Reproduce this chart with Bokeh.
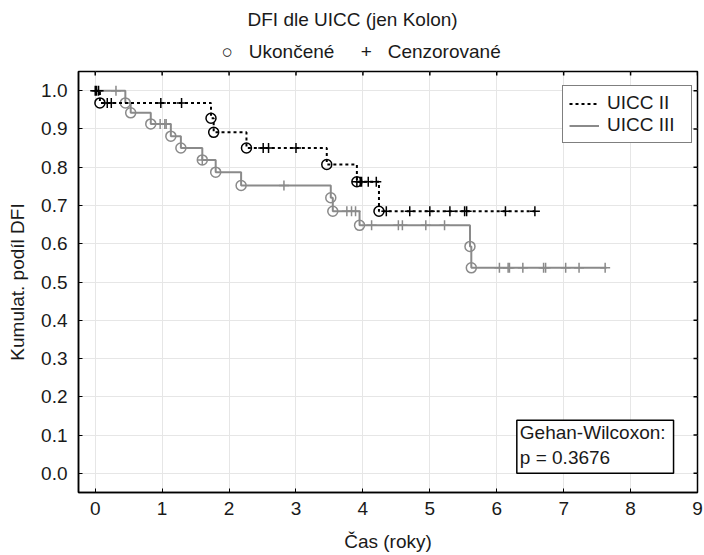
import math
from bokeh.plotting import figure
from bokeh.models import Range1d, FixedTicker, Legend, LegendItem, Label, Title
from bokeh.embed import file_html
from bokeh.resources import INLINE

FONT = "Liberation Sans"
TXT = "#1a1a1a"

title_text = "DFI dle UICC (jen Kolon)"
x_label = "Čas (roky)"
y_label = "Kumulat. podíl DFI"
marker_names = ["Ukončené", "Cenzorované"]
marker_symbols = ["○", "+"]
group_names = ["UICC II", "UICC III"]
test_text = ["Gehan-Wilcoxon:", "p = 0.3676"]

x_ticks = [0, 1, 2, 3, 4, 5, 6, 7, 8, 9]
y_ticks = [0.0, 0.1, 0.2, 0.3, 0.4, 0.5, 0.6, 0.7, 0.8, 0.9, 1.0]
y_tick_labels = ["0.0", "0.1", "0.2", "0.3", "0.4", "0.5", "0.6", "0.7", "0.8", "0.9", "1.0"]

# UICC II
ii_event_t = [0.07, 1.73, 1.77, 2.26, 3.46, 3.91, 4.24]
ii_event_s = [0.968, 0.928, 0.891, 0.850, 0.807, 0.762, 0.685]
ii_cens_t = [0.00, 0.02, 0.05, 0.18, 0.24, 0.98, 1.29, 2.51, 2.59, 3.00,
             3.91, 3.96, 3.98, 4.08, 4.20, 4.35, 4.70, 5.00, 5.30, 5.52,
             5.55, 6.13, 6.57]
ii_cens_s = [1.0, 1.0, 1.0, 0.968, 0.968, 0.968, 0.968, 0.850, 0.850, 0.850,
             0.762, 0.762, 0.762, 0.762, 0.762, 0.685, 0.685, 0.685, 0.685, 0.685,
             0.685, 0.685, 0.685]
ii_end = 6.57

# UICC III
iii_event_t = [0.45, 0.53, 0.83, 1.13, 1.28, 1.60, 1.80, 2.18, 3.52, 3.55,
               3.95, 5.60, 5.62]
iii_event_s = [0.968, 0.942, 0.913, 0.881, 0.850, 0.819, 0.787, 0.752, 0.720, 0.685,
               0.648, 0.593, 0.537]
iii_cens_t = [0.31, 0.97, 1.04, 1.06, 1.60, 2.82, 3.76, 3.83, 3.89, 4.13,
              4.53, 4.59, 4.94, 5.22, 6.04, 6.17, 6.19, 6.39, 6.70, 6.73,
              7.03, 7.23, 7.62]
iii_cens_s = [1.0, 0.913, 0.913, 0.913, 0.819, 0.752, 0.685, 0.685, 0.685, 0.648,
              0.648, 0.648, 0.648, 0.648, 0.537, 0.537, 0.537, 0.537, 0.537, 0.537,
              0.537, 0.537, 0.537]
iii_end = 7.64

BLACK = "#000000"
GRAY = "#8a8a8a"

X0, X1, Y0, Y1 = -0.25, 9, -0.05, 1.05

p = figure(width=704, height=555, output_backend="svg", toolbar_location=None,
           title=None,
           x_range=Range1d(X0, X1), y_range=Range1d(Y0, Y1),
           min_border_left=78, min_border_right=7, min_border_top=71,
           min_border_bottom=63)
p.background_fill_color = "white"
p.border_fill_color = "white"
p.outline_line_color = "black"
p.outline_line_width = 1.5

# header: marker key row (nearest the frame), then the title above it
NB = "\u00a0"
key_text = (marker_symbols[0] + NB * 3 + marker_names[0] + NB * 5 +
            marker_symbols[1] + NB * 3 + marker_names[1])
p.add_layout(Title(text=key_text, align="left", offset=143, standoff=19,
                   text_font=FONT, text_font_size="19px", text_font_style="normal",
                   text_color=TXT), "above")
p.add_layout(Title(text=title_text, align="left", offset=169, standoff=0,
                   text_font=FONT, text_font_size="19px", text_font_style="normal",
                   text_color=TXT), "above")

for ax in (p.xaxis[0], p.yaxis[0]):
    ax.axis_line_color = "black"
    ax.axis_line_width = 1.5
    ax.major_tick_in = 4
    ax.major_tick_out = 0
    ax.minor_tick_line_color = None
    ax.major_label_text_font = FONT
    ax.major_label_text_font_size = "19px"
    ax.major_label_text_color = TXT
    ax.axis_label_text_font = FONT
    ax.axis_label_text_font_size = "19px"
    ax.axis_label_text_font_style = "normal"
    ax.axis_label_text_color = TXT

p.xaxis.ticker = FixedTicker(ticks=x_ticks)
p.yaxis.ticker = FixedTicker(ticks=y_ticks)
p.yaxis.major_label_overrides = {t: l for t, l in zip(y_ticks, y_tick_labels)}
p.xaxis.axis_label = x_label
p.yaxis.axis_label = y_label
p.xaxis.major_label_standoff = 9
p.xaxis.axis_label_standoff = 13
p.yaxis.major_label_standoff = 11
p.yaxis.axis_label_standoff = 10

p.xgrid.grid_line_color = "#e6e6e6"
p.ygrid.grid_line_color = "#e6e6e6"
p.xgrid.ticker = FixedTicker(ticks=x_ticks)
p.ygrid.ticker = FixedTicker(ticks=y_ticks)

# inward ticks on top and right edges (half of each dash is clipped by the frame)
p.scatter(x=x_ticks, y=[Y1] * len(x_ticks), marker="dash", size=8, angle=math.pi / 2,
          line_color="black", line_width=1.5)
p.scatter(x=[X1] * len(y_ticks), y=y_ticks, marker="dash", size=8,
          line_color="black", line_width=1.5)

curves = {}
specs = [
    (group_names[0], ii_event_t, ii_event_s, ii_cens_t, ii_cens_s, ii_end, BLACK, "3 3"),
    (group_names[1], iii_event_t, iii_event_s, iii_cens_t, iii_cens_s, iii_end, GRAY, "solid"),
]
for name, et, es, ct, cs, end, col, dash in specs[::-1]:
    xs = [0.0] + list(et) + [end]
    ys = [1.0] + list(es) + [es[-1]]
    r = p.step(xs, ys, mode="after", line_color=col, line_width=2, line_dash=dash)
    curves[name] = r
    p.scatter(x=ct, y=cs, marker="cross", size=10, line_color=col, line_width=1.5)
    p.scatter(x=et, y=es, marker="circle", size=10, fill_color=None,
              line_color=col, line_width=1.5)

leg = Legend(items=[LegendItem(label=n, renderers=[curves[n]]) for n in group_names],
             location=(484, 349), margin=0, padding=6, spacing=0,
             glyph_width=30, glyph_height=21, label_height=21, label_standoff=8,
             label_width=78,
             label_text_font=FONT, label_text_font_size="19px", label_text_color=TXT,
             border_line_color="black", border_line_width=1.5,
             background_fill_color="white", background_fill_alpha=1.0)
p.add_layout(leg)

box = Label(x=6.30, y=0.0, text=test_text[0] + "\n" + test_text[1],
            anchor="bottom_left", text_font=FONT, text_font_size="19px",
            text_color=TXT, border_line_color="black", border_line_width=1.5,
            background_fill_color="white", padding=(3, 8, 2, 5),
            text_line_height=1.2)
p.add_layout(box)

open("out.html", "w").write(file_html(p, INLINE))
